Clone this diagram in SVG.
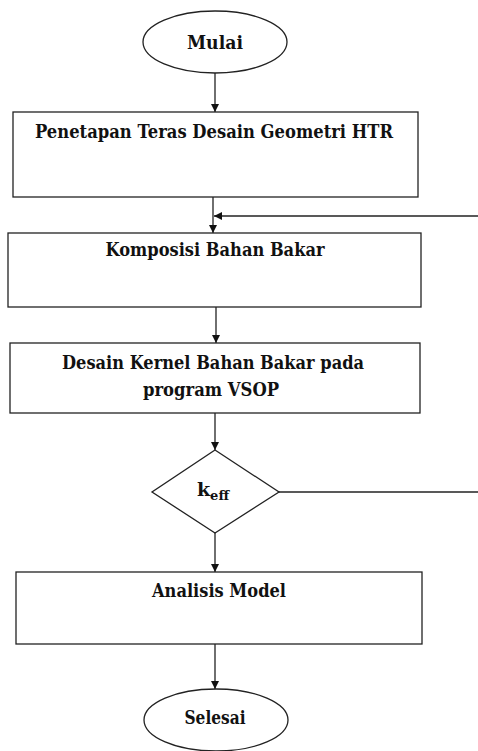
<svg xmlns="http://www.w3.org/2000/svg" width="478" height="751" viewBox="0 0 478 751">
<style>
.s{fill:#fff;stroke:#222;stroke-width:1.3}
.t{font-family:'DejaVu Serif','Liberation Serif',serif;font-weight:700;font-size:19px;fill:#111;text-anchor:middle}
.c{fill:none;stroke:#222;stroke-width:1.3}
</style>
<defs>
<marker id="a" viewBox="0 0 10 10" refX="10" refY="5" markerWidth="8" markerHeight="8" markerUnits="userSpaceOnUse" orient="auto">
<path d="M0,0 L10,5 L0,10 z" fill="#111"/>
</marker>
</defs>
<rect width="478" height="751" fill="#fff"/>
<g id="connectors">
<path class="c" d="M215,73 V112" marker-end="url(#a)"/>
<path class="c" d="M213,197 V233" marker-end="url(#a)"/>
<path class="c" d="M478,216 H214" marker-end="url(#a)"/>
<path class="c" d="M216,307 V343" marker-end="url(#a)"/>
<path class="c" d="M215,413 V450" marker-end="url(#a)"/>
<path class="c" d="M279,492 H478"/>
<path class="c" d="M215,533 V572" marker-end="url(#a)"/>
<path class="c" d="M215,644 V689" marker-end="url(#a)"/>
</g>
<g id="mulai">
<ellipse class="s" cx="215" cy="42" rx="72" ry="31"/>
<text class="t" x="215" y="49" textLength="56" lengthAdjust="spacingAndGlyphs">Mulai</text>
</g>
<g id="penetapan">
<rect class="s" x="13" y="112" width="405" height="85"/>
<text class="t" x="214" y="138" textLength="358" lengthAdjust="spacingAndGlyphs">Penetapan Teras Desain Geometri HTR</text>
</g>
<g id="komposisi">
<rect class="s" x="8" y="233" width="413" height="74"/>
<text class="t" x="215" y="256" textLength="219" lengthAdjust="spacingAndGlyphs">Komposisi Bahan Bakar</text>
</g>
<g id="desain">
<rect class="s" x="10" y="343" width="410" height="70"/>
<text class="t" x="213" y="369" textLength="302" lengthAdjust="spacingAndGlyphs">Desain Kernel Bahan Bakar pada</text>
<text class="t" x="211" y="396" textLength="136" lengthAdjust="spacingAndGlyphs">program VSOP</text>
</g>
<g id="keff">
<path class="s" d="M215,450 L279,492 L215,533 L152,492 Z"/>
<text class="t" x="213" y="496">k<tspan font-size="13" dy="4">eff</tspan></text>
</g>
<g id="analisis">
<rect class="s" x="16" y="572" width="406" height="72"/>
<text class="t" x="219" y="597" textLength="134" lengthAdjust="spacingAndGlyphs">Analisis Model</text>
</g>
<g id="selesai">
<ellipse class="s" cx="216" cy="720" rx="72" ry="31"/>
<text class="t" x="215" y="724" textLength="61" lengthAdjust="spacingAndGlyphs">Selesai</text>
</g>
</svg>
